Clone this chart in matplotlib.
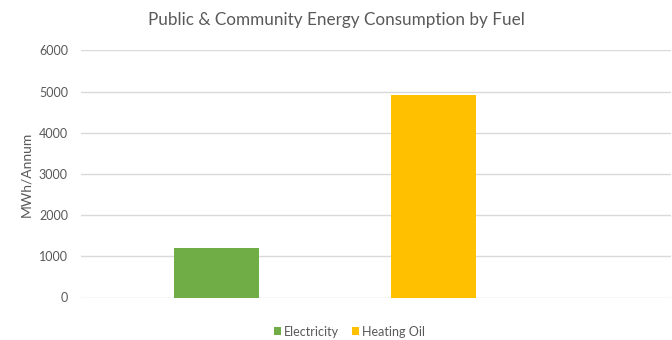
import matplotlib
matplotlib.use("Agg")
import matplotlib.pyplot as plt
from matplotlib.patches import Patch

# Data
fuels = ["Electricity", "Heating Oil"]
consumption = [1200, 4920]
colors = ["#70AD47", "#FFC000"]
y_ticks = [0, 1000, 2000, 3000, 4000, 5000, 6000]

plt.rcParams["font.family"] = ["Lato", "DejaVu Sans"]

fig = plt.figure(figsize=(6.72, 3.40), dpi=100)
ax = fig.add_axes([81 / 672, 0.125, 590 / 672, 0.7265])

positions = list(range(len(fuels)))
ax.bar(positions, consumption, width=0.394, color=colors, zorder=3)

ax.set_xlim(-0.625, 2.096)
ax.set_ylim(0, 6000)
ax.set_yticks(y_ticks)
ax.set_yticklabels([str(v) for v in y_ticks])
ax.set_xticks([])

ax.yaxis.grid(True, color="#d9d9d9", linewidth=1.0, zorder=0)
for s in ax.spines.values():
    s.set_visible(False)
ax.tick_params(axis="y", length=0, pad=9.4, labelsize=9, labelcolor="#595959")

ax.set_ylabel("MWh/Annum", fontsize=10, color="#595959")
ax.yaxis.set_label_coords(-0.083, 0.5)

fig.text(0.5, 0.94, "Public & Community Energy Consumption by Fuel",
         ha="center", va="center", fontsize=12.3, color="#595959")

handles = [Patch(facecolor=c, edgecolor="none") for c in colors]
fig.legend(handles, fuels, loc="center left", bbox_to_anchor=(274 / 672, 0.025),
           ncol=2, frameon=False, fontsize=9, labelcolor="#595959",
           handlelength=0.55, handleheight=0.55, handletextpad=0.25,
           columnspacing=1.0, borderpad=0, borderaxespad=0)

fig.savefig("out.png", dpi=100)
